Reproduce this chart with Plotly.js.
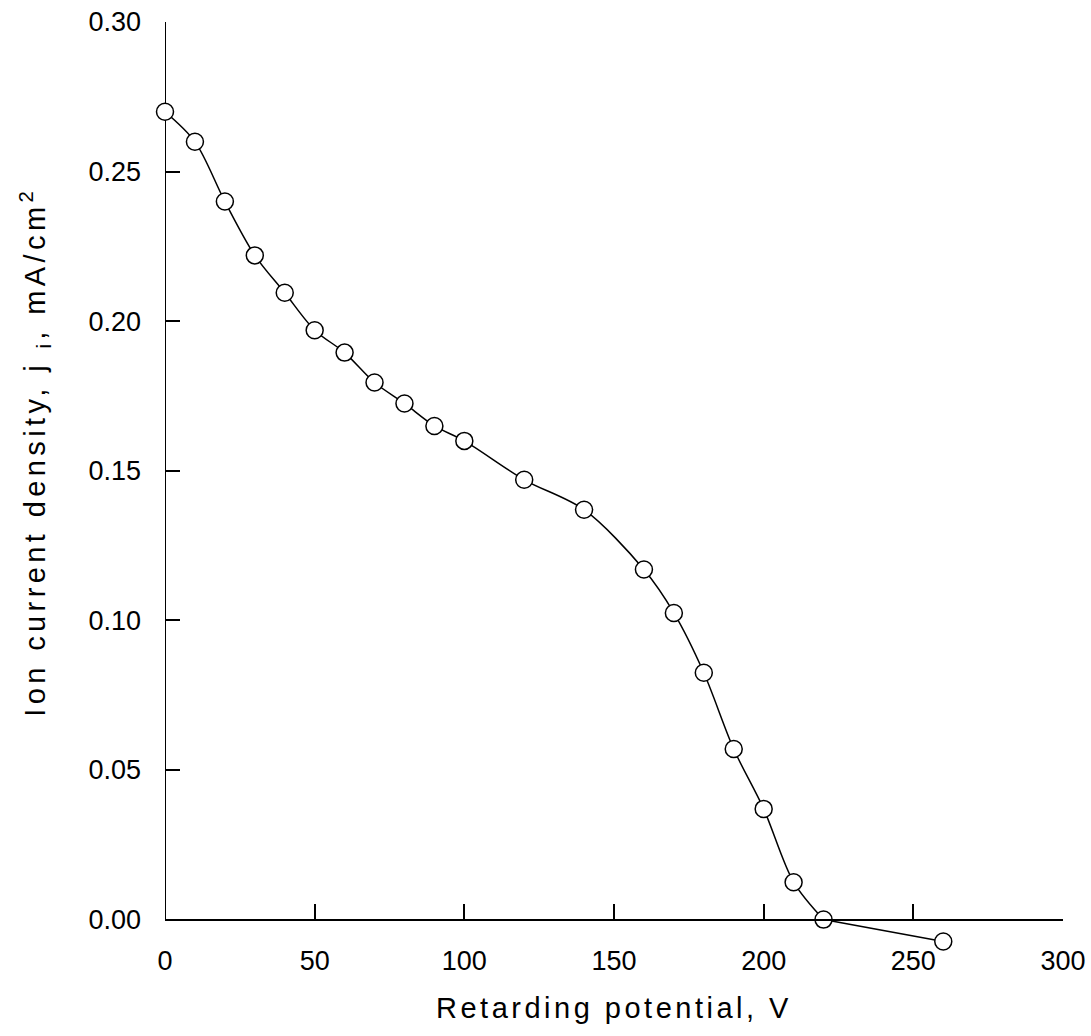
<!DOCTYPE html>
<html>
<head>
<meta charset="utf-8">
<script src="https://cdn.plot.ly/plotly-3.0.1.min.js"></script>
<style>
html,body{margin:0;padding:0;background:#fff;}
#chart{width:1091px;height:1036px;}
.xtitle{letter-spacing:3.5px;}
.annotation-text{letter-spacing:4.4px;}
</style>
</head>
<body>
<div id="chart"></div>
<script>
const potential = [0, 10, 20, 30, 40, 50, 60, 70, 80, 90, 100, 120, 140, 160, 170, 180, 190, 200, 210, 220, 260];
const currentDensity = [0.270, 0.260, 0.240, 0.222, 0.2095, 0.197, 0.1895, 0.1795, 0.1725, 0.165, 0.160, 0.147, 0.137, 0.117, 0.1025, 0.0825, 0.057, 0.037, 0.0125, 0.000, -0.0073];
const xTicks = [0, 50, 100, 150, 200, 250, 300];
const yTicks = [0, 0.05, 0.10, 0.15, 0.20, 0.25, 0.30];
const yTickText = ['0.00', '0.05', '0.10', '0.15', '0.20', '0.25', '0.30'];
const xTitle = 'Retarding potential, V';
const yTitle = 'Ion current density, j <sub>i</sub>, mA/cm<sup>2</sup>';

// y range extends a little below zero so the last point (below 0) stays visible
const yMin = -0.0125;
const yMax = yTicks[yTicks.length - 1];
const xAxisPos = (yTicks[0] - yMin) / (yMax - yMin);
const nSmooth = potential.length - 1; // smooth curve up to 220 V, straight segment after

const fontFam = 'Liberation Sans, Arial, sans-serif';

const smoothLine = {
  x: potential.slice(0, nSmooth), y: currentDensity.slice(0, nSmooth),
  mode: 'lines', line: {color: '#000', width: 1.5, shape: 'spline', smoothing: 0.9},
  cliponaxis: false, showlegend: false
};
const tailLine = {
  x: potential.slice(nSmooth - 1), y: currentDensity.slice(nSmooth - 1),
  mode: 'lines', line: {color: '#000', width: 1.5},
  cliponaxis: false, showlegend: false
};
const points = {
  x: potential, y: currentDensity,
  mode: 'markers',
  marker: {symbol: 'circle', size: 17, color: '#fff', line: {color: '#000', width: 1.5}},
  cliponaxis: false, showlegend: false
};

const layout = {
  width: 1091, height: 1036,
  margin: {l: 165, r: 28, t: 22, b: 78.6},
  paper_bgcolor: '#fff', plot_bgcolor: 'rgba(0,0,0,0)',
  font: {family: fontFam, color: '#000', size: 20},
  xaxis: {
    range: [xTicks[0], xTicks[xTicks.length - 1]], tickvals: xTicks,
    anchor: 'free', position: xAxisPos,
    ticks: 'inside', ticklen: 15, tickwidth: 2, tickcolor: '#000',
    showline: true, linecolor: '#000', linewidth: 2, showgrid: false, zeroline: false,
    ticklabelstandoff: 17,
    tickfont: {size: 27, family: fontFam},
    title: {text: xTitle, font: {size: 29, family: fontFam}, standoff: 22}
  },
  yaxis: {
    range: [yMin, yMax], tickvals: yTicks, ticktext: yTickText,
    ticks: 'inside', ticklen: 15, tickwidth: 2, tickcolor: '#000',
    showline: false, showgrid: false, zeroline: false,
    ticklabelstandoff: 23,
    tickfont: {size: 27, family: fontFam}
  },
  shapes: [{
    type: 'line', xref: 'x', yref: 'y', layer: 'below',
    x0: xTicks[0], x1: xTicks[0], y0: yTicks[0], y1: yMax,
    line: {color: '#000', width: 2}
  }],
  annotations: [{
    text: yTitle, textangle: -90, showarrow: false,
    xref: 'paper', yref: 'paper', x: -0.1448, y: 0.5403,
    xanchor: 'center', yanchor: 'middle',
    font: {size: 29, family: fontFam, color: '#000'}
  }]
};

Plotly.newPlot('chart', [smoothLine, tailLine, points], layout, {displayModeBar: false, staticPlot: true});
</script>
</body>
</html>
